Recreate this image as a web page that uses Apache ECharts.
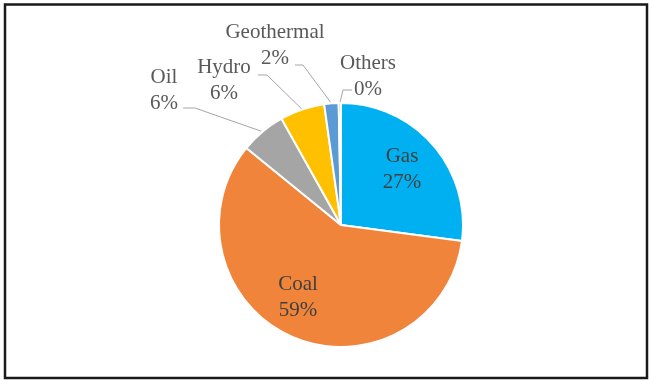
<!DOCTYPE html>
<html><head><meta charset="utf-8">
<script src="https://cdn.jsdelivr.net/npm/echarts@6/dist/echarts.min.js"></script>
<style>html,body{margin:0;padding:0;background:#fff}#c{width:651px;height:380px}</style>
</head><body><div id="c"></div>
<script>
// ---- data ----
const categories = ['Gas', 'Coal', 'Oil', 'Hydro', 'Geothermal', 'Others'];
const shares = [27.0, 58.6, 6.0, 5.9, 1.9, 0.3];
const colors = ['#00B0F0', '#F0843A', '#A5A5A5', '#FFC000', '#5B9BD5', '#70AD47'];
const insideLabels = [true, true, false, false, false, false];

// ---- label placement (style only) ----
const labelPlace = [
  { x: 402, y: 169 },
  { x: 298, y: 297 },
  { x: 164, y: 90, bend: [195, 108], end: [183, 108] },
  { x: 224, y: 80, bend: [267, 75], end: [258, 75] },
  { x: 275, y: 45, bend: [303, 65], end: [295, 65] },
  { x: 368, y: 76, bend: [343, 90], end: [352, 90] }
];

const chart = echarts.init(document.getElementById('c'), null, { renderer: 'canvas' });
const data = categories.map((name, i) => ({
  name: name,
  value: shares[i],
  itemStyle: { color: colors[i] },
  label: {
    position: insideLabels[i] ? 'inside' : 'outside',
    color: insideLabels[i] ? '#404040' : '#595959'
  },
  labelLine: { show: !insideLabels[i] }
}));

chart.setOption({
  animation: false,
  backgroundColor: '#ffffff',
  graphic: [{
    type: 'rect',
    shape: { x: 5, y: 4.5, width: 642, height: 373.5 },
    style: { fill: null, stroke: '#1a1a1a', lineWidth: 2.5 },
    z: 10
  }],
  series: [{
    type: 'pie',
    center: [341, 225],
    radius: 122,
    startAngle: 90,
    clockwise: true,
    avoidLabelOverlap: false,
    percentPrecision: 0,
    itemStyle: { borderColor: '#ffffff', borderWidth: 2 },
    label: {
      formatter: '{b}\n{d}%',
      fontFamily: 'Liberation Serif',
      fontSize: 21,
      lineHeight: 26,
      align: 'center'
    },
    labelLine: {
      show: true,
      lineStyle: { color: '#A6A6A6', width: 1 }
    },
    labelLayout: function (params) {
      const p = labelPlace[params.dataIndex];
      const out = { x: p.x, y: p.y, align: 'center', verticalAlign: 'middle' };
      if (p.bend && params.labelLinePoints) {
        out.labelLinePoints = [params.labelLinePoints[0], p.bend, p.end];
      }
      return out;
    },
    data: data
  }]
});
</script>
</body></html>
